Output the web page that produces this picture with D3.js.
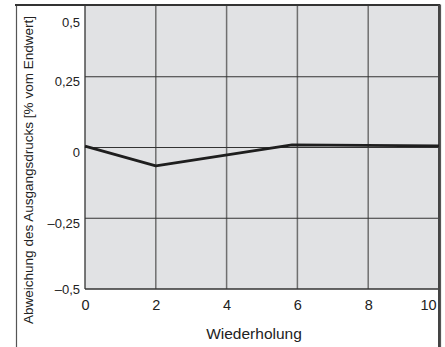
<!DOCTYPE html>
<html>
<head>
<meta charset="utf-8">
<script src="https://cdn.jsdelivr.net/npm/d3@7"></script>
<style>
  body { margin: 0; background: #fff; }
  text { font-family: "Liberation Sans", Arial, sans-serif; fill: #222; }
</style>
</head>
<body>
<script>
// data
var repetitions = [0, 2, 5.85, 10];
var deviation = [0.005, -0.065, 0.009, 0.006];
var xTicks = [0, 2, 4, 6, 8, 10];
var yTicks = [-0.5, -0.25, 0, 0.25, 0.5];
var yTickLabels = ["\u20130,5", "\u20130,25", "0", "0,25", "0,5"];
var xTitle = "Wiederholung";
var yTitle = "Abweichung des Ausgangsdrucks [% vom Endwert]";

var svgWidth = 445, svgHeight = 347;
var margin = { top: 6, right: 6, bottom: 58, left: 85 };
var width = svgWidth - margin.left - margin.right;
var height = svgHeight - margin.top - margin.bottom;

var svg = d3.select("body").append("svg")
  .attr("width", svgWidth)
  .attr("height", svgHeight);

// outer frame (left, top, right)
svg.append("path")
  .attr("d", "M16.5," + svgHeight + "V5H440.5V" + svgHeight)
  .attr("fill", "none")
  .attr("stroke", "#555")
  .attr("stroke-width", 1.2);

var chart = svg.append("g")
  .attr("transform", `translate(${margin.left}, ${margin.top})`);

var x = d3.scaleLinear().domain([0, 10]).range([0, width]);
var y = d3.scaleLinear().domain([-0.5, 0.5]).range([height, 0]);

// plot background
chart.append("rect")
  .attr("width", width)
  .attr("height", height)
  .attr("fill", "#e1e2e4");

// vertical grid
chart.append("g")
  .selectAll("line")
  .data(xTicks.slice(1, -1))
  .enter()
  .append("line")
  .attr("x1", d => x(d)).attr("x2", d => x(d))
  .attr("y1", 0).attr("y2", height)
  .attr("stroke", "#6f6f6f")
  .attr("stroke-width", 1.5);

// horizontal grid
chart.append("g")
  .selectAll("line")
  .data(yTicks.slice(1, -1))
  .enter()
  .append("line")
  .attr("x1", 0).attr("x2", width)
  .attr("y1", d => y(d)).attr("y2", d => y(d))
  .attr("stroke", "#333")
  .attr("stroke-width", 1.1);

// plot border
chart.append("line").attr("x1", 0).attr("x2", 0).attr("y1", 0).attr("y2", height)
  .attr("stroke", "#333").attr("stroke-width", 1.3);
chart.append("line").attr("x1", 0).attr("x2", width).attr("y1", height).attr("y2", height)
  .attr("stroke", "#333").attr("stroke-width", 1.5);
chart.append("line").attr("x1", -70).attr("x2", width + 1).attr("y1", -1).attr("y2", -1)
  .attr("stroke", "#333").attr("stroke-width", 2.2);
chart.append("line").attr("x1", width).attr("x2", width).attr("y1", -1).attr("y2", svgHeight)
  .attr("stroke", "#444").attr("stroke-width", 2);

// data line
var line = d3.line()
  .x((d, i) => x(repetitions[i]))
  .y(d => y(d));

chart.append("path")
  .datum(deviation)
  .attr("fill", "none")
  .attr("stroke", "#1e1e1e")
  .attr("stroke-width", 2.8)
  .attr("stroke-linejoin", "round")
  .attr("d", line);

// x tick labels
var xAxis = d3.axisBottom(x).tickValues(xTicks).tickSize(0).tickPadding(11)
  .tickFormat(d3.format("d"));
var gx = chart.append("g")
  .attr("transform", `translate(0, ${height})`)
  .call(xAxis);
gx.select(".domain").remove();
gx.selectAll("text")
  .style("font-size", "14.5px")
  .attr("fill", "#222")
  .attr("dx", d => d === 10 ? -11 : 0);

// y tick labels
var yAxis = d3.axisLeft(y).tickValues(yTicks).tickSize(0).tickPadding(5)
  .tickFormat((d, i) => yTickLabels[i]);
var gy = chart.append("g").call(yAxis);
gy.select(".domain").remove();
gy.selectAll("text")
  .style("font-size", "13px")
  .attr("fill", "#222")
  .attr("dy", d => d === 0.5 ? 20 : d === -0.5 ? 4 : 9);

// axis titles
chart.append("text")
  .attr("x", width / 2 - 8)
  .attr("y", height + 50)
  .attr("text-anchor", "middle")
  .style("font-size", "15.5px")
  .text(xTitle);

svg.append("text")
  .attr("transform", "translate(33, 170) rotate(-90)")
  .attr("text-anchor", "middle")
  .attr("textLength", 308)
  .attr("lengthAdjust", "spacingAndGlyphs")
  .style("font-size", "13.5px")
  .text(yTitle);
</script>
</body>
</html>
